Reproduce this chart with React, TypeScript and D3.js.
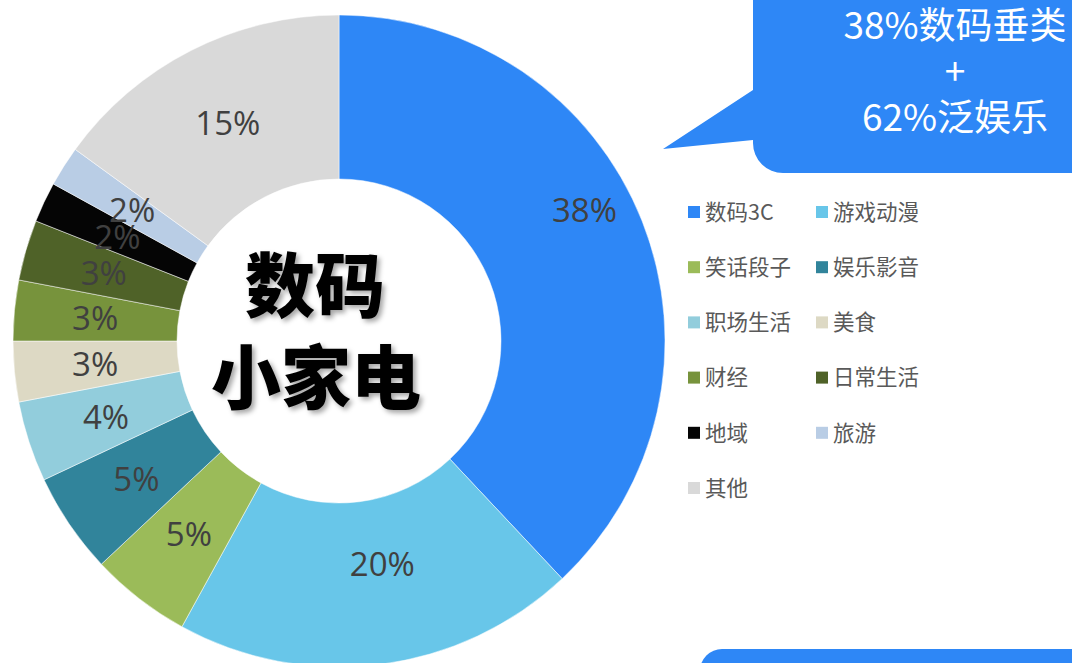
import React from "react";
import * as d3 from "d3";

const categories = ["数码3C", "游戏动漫", "笑话段子", "娱乐影音", "职场生活", "美食", "财经", "日常生活", "地域", "旅游", "其他"];
const values = [38, 20, 5, 5, 4, 3, 3, 3, 2, 2, 15];
const colors = ["#2E87F6", "#68C6E9", "#9BBB59", "#31849B", "#92CDDC", "#DDD9C4", "#77933C", "#4F6228", "#050505", "#B9CDE5", "#D9D9D9"];
const calloutLines = ["38%数码垂类", "+", "62%泛娱乐"];
const centerLines = ["数码", "小家电"];

// label placement tweaks (radius delta px, angle delta deg)
const labelTweaks: Record<string, { dr: number; da: number }> = {
  "数码3C": { dr: 33, da: -6.4 },
  "游戏动漫": { dr: -18, da: -3.8 },
};

const W = 1072;
const H = 663;
const cx = 339;
const cy = 341;
const outerR = 326;
const innerR = 162;
const labelR = 245;

export default function App() {
  const data = categories.map((c, i) => ({ name: c, value: values[i], color: colors[i] }));
  const pie = d3.pie<any>().sort(null).value((d: any) => d.value).startAngle(0).endAngle(2 * Math.PI);
  const arcs = pie(data);
  const arcGen = d3.arc<any>().innerRadius(innerR).outerRadius(outerR);
  const total = d3.sum(values);

  const legendX = d3.scalePoint<number>().domain([0, 1]).range([688, 816]);
  const legendY = d3.scaleLinear().domain([0, 5]).range([212, 488]);

  const bubblePath = (() => {
    const x0 = 753, y0 = -40, x1 = 1140, y1 = 173, r = 30;
    const p = d3.path();
    p.moveTo(x0 + r, y0);
    p.lineTo(x1, y0);
    p.lineTo(x1, y1);
    p.lineTo(x0 + r, y1);
    p.arcTo(x0, y1, x0, y1 - r, r);
    p.lineTo(x0, 140);
    p.lineTo(663, 149);
    p.lineTo(x0, 90);
    p.lineTo(x0, y0);
    p.closePath();
    return p.toString();
  })();

  return (
    <div style={{ position: "absolute", left: 0, top: 0, width: W, height: H, background: "#fff" }}>
      <svg width={W} height={H} viewBox={`0 0 ${W} ${H}`}>
        <defs>
          <filter id="tshadow" x="-20%" y="-20%" width="140%" height="140%">
            <feDropShadow dx="3" dy="3" stdDeviation="2.5" floodColor="#000" floodOpacity="0.35" />
          </filter>
        </defs>
        <rect x={0} y={0} width={W} height={H} fill="#fff" />
        <g transform={`translate(${cx},${cy})`}>
          {arcs.map((a, i) => (
            <path key={i} d={arcGen(a) as string} fill={a.data.color} stroke="#fff" strokeWidth={0.5} />
          ))}
          {arcs.map((a, i) => {
            const t = labelTweaks[a.data.name] || { dr: 0, da: 0 };
            const ang = (a.startAngle + a.endAngle) / 2 + (t.da * Math.PI) / 180;
            const r = labelR + t.dr;
            const x = Math.sin(ang) * r;
            const y = -Math.cos(ang) * r;
            return (
              <text
                key={"l" + i}
                x={x}
                y={y}
                dy="0.36em"
                textAnchor="middle"
                fontFamily="'Open Sans', 'Noto Sans', sans-serif"
                fontSize={33}
                fill="#404040"
              >
                {Math.round((a.data.value / total) * 100)}%
              </text>
            );
          })}
        </g>
        <g filter="url(#tshadow)" fontFamily="'Noto Sans CJK SC', sans-serif" fontWeight={900} fill="#000" textAnchor="middle">
          <text x={315} y={287} dy="0.36em" fontSize={70}>{centerLines[0]}</text>
          <text x={316} y={379} dy="0.36em" fontSize={70}>{centerLines[1]}</text>
        </g>
        <path d={bubblePath} fill="#2E87F6" />
        <g fontFamily="'Noto Sans CJK SC', sans-serif" fill="#fff" textAnchor="middle" fontSize={37}>
          {calloutLines.map((l, i) => (
            <text key={i} x={955} y={26 + i * 46} dy="0.36em">{l}</text>
          ))}
        </g>
        <rect x={700} y={649} width={420} height={80} rx={22} ry={22} fill="#2E87F6" />
        <g fontFamily="'Noto Sans CJK SC', sans-serif" fontSize={21.5} fill="#595959">
          {categories.map((c, i) => {
            const col = i % 2;
            const row = Math.floor(i / 2);
            const x = legendX(col) as number;
            const y = legendY(row);
            return (
              <g key={c}>
                <rect x={x} y={y - 6} width={12} height={12} fill={colors[i]} />
                <text x={x + 17} y={y} dy="0.36em">{c}</text>
              </g>
            );
          })}
        </g>
      </svg>
    </div>
  );
}
